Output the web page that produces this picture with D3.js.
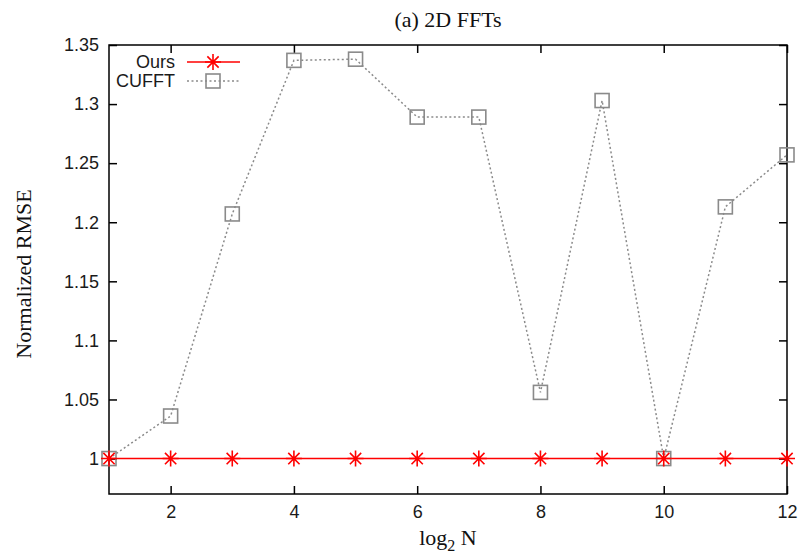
<!DOCTYPE html>
<html>
<head>
<meta charset="utf-8">
<script src="https://cdn.jsdelivr.net/npm/d3@7"></script>
<style>
  html, body { margin: 0; padding: 0; background: #fff; }
  svg { display: block; }
</style>
</head>
<body>
<svg id="chart" width="801" height="553"></svg>
<script>
// Normalized RMSE of 2D FFTs versus transform size (log2 N)
const logN = [1, 2, 3, 4, 5, 6, 7, 8, 9, 10, 11, 12];
const oursRMSE = [1, 1, 1, 1, 1, 1, 1, 1, 1, 1, 1, 1];
const cufftRMSE = [1.0, 1.036, 1.207, 1.337, 1.338, 1.289, 1.289, 1.056, 1.303, 1.0, 1.213, 1.257];
const xTicks = [2, 4, 6, 8, 10, 12];
const yTicks = [1, 1.05, 1.1, 1.15, 1.2, 1.25, 1.3, 1.35];

const svg = d3.select("#chart");
const margin = { left: 109, right: 14, top: 45, bottom: 59 };
const W = 801, H = 553;
const x0 = margin.left, x1 = W - margin.right;
const y0 = H - margin.bottom, y1 = margin.top;

const x = d3.scaleLinear().domain([1, 12]).range([x0, x1]);
const y = d3.scaleLinear().domain([0.97, 1.35]).range([y0, y1]);

const tickFont = "'Liberation Sans', Arial, sans-serif";
const serif = "'Liberation Serif', 'Times New Roman', serif";

// axes with inward ticks, mirrored on top and right
const tickLen = 8;
const fmtY = d => d3.format("")(+d.toFixed(2));
const axisLeft = d3.axisLeft(y).tickValues(yTicks).tickSize(-tickLen).tickPadding(10).tickFormat(fmtY);
const axisRight = d3.axisRight(y).tickValues(yTicks).tickSize(-tickLen).tickFormat("");
const axisBottom = d3.axisBottom(x).tickValues(xTicks).tickSize(-tickLen).tickPadding(11).tickFormat(d3.format("d"));
const axisTop = d3.axisTop(x).tickValues(xTicks).tickSize(-tickLen).tickFormat("");

function styleAxis(g) {
  g.select(".domain").remove();
  g.selectAll(".tick line").attr("stroke", "#000").attr("stroke-width", 1.5);
  g.selectAll(".tick text").attr("fill", "#1a1a1a").style("font-family", tickFont).style("font-size", "18px");
}

svg.append("g").attr("transform", `translate(${x0},0)`).call(axisLeft).call(styleAxis);
svg.append("g").attr("transform", `translate(${x1},0)`).call(axisRight).call(styleAxis);
svg.append("g").attr("transform", `translate(0,${y0})`).call(axisBottom).call(styleAxis);
svg.append("g").attr("transform", `translate(0,${y1})`).call(axisTop).call(styleAxis);

// plot frame
svg.append("rect")
  .attr("x", x0).attr("y", y1)
  .attr("width", x1 - x0).attr("height", y0 - y1)
  .attr("fill", "none").attr("stroke", "#000").attr("stroke-width", 1.5);

const grey = "#8a8a8a";
const red = "#ff0000";

// CUFFT series: dotted grey line with open squares
const line = d3.line().x((d, i) => x(logN[i])).y(d => y(d));
svg.append("path")
  .datum(cufftRMSE)
  .attr("d", line)
  .attr("fill", "none")
  .attr("stroke", grey)
  .attr("stroke-width", 1.5)
  .attr("stroke-dasharray", "2,2.5");

// Ours series: solid red line with asterisks
svg.append("path")
  .datum(oursRMSE)
  .attr("d", line)
  .attr("fill", "none")
  .attr("stroke", red)
  .attr("stroke-width", 1.5);

const sq = 14;
function square(g, cx, cy) {
  g.append("rect")
    .attr("x", cx - sq / 2).attr("y", cy - sq / 2)
    .attr("width", sq).attr("height", sq)
    .attr("fill", "none").attr("stroke", grey).attr("stroke-width", 1.6);
}
function star(g, cx, cy) {
  const r = 8, d = r * Math.SQRT1_2;
  const p = `M${cx - r},${cy}L${cx + r},${cy}M${cx},${cy - r}L${cx},${cy + r}` +
            `M${cx - d},${cy - d}L${cx + d},${cy + d}M${cx - d},${cy + d}L${cx + d},${cy - d}`;
  g.append("path").attr("d", p).attr("stroke", red).attr("stroke-width", 1.6).attr("fill", "none");
}

const markers = svg.append("g");
cufftRMSE.forEach((v, i) => square(markers, x(logN[i]), y(v)));
oursRMSE.forEach((v, i) => star(markers, x(logN[i]), y(v)));

// legend
const legend = svg.append("g");
const legItems = [
  { name: "Ours", y: 62, color: red, dash: null, mark: star },
  { name: "CUFFT", y: 81, color: grey, dash: "2,2.5", mark: square }
];
legItems.forEach(it => {
  legend.append("text")
    .attr("x", 175).attr("y", it.y).attr("dy", "0.35em")
    .attr("text-anchor", "end")
    .style("font-family", tickFont).style("font-size", "18px")
    .attr("fill", "#1a1a1a")
    .text(it.name);
  legend.append("line")
    .attr("x1", 187).attr("x2", 240).attr("y1", it.y).attr("y2", it.y)
    .attr("stroke", it.color).attr("stroke-width", 1.5)
    .attr("stroke-dasharray", it.dash);
  it.mark(legend, 213, it.y);
});

// title and axis labels
svg.append("text")
  .attr("x", 448).attr("y", 27)
  .attr("text-anchor", "middle")
  .style("font-family", serif).style("font-size", "22px")
  .attr("fill", "#111")
  .text("(a) 2D FFTs");

const xl = svg.append("text")
  .attr("x", 448).attr("y", 545)
  .attr("text-anchor", "middle")
  .style("font-family", serif).style("font-size", "22px")
  .attr("fill", "#111");
xl.append("tspan").text("log");
xl.append("tspan").attr("dy", 6).style("font-size", "16px").text("2");
xl.append("tspan").attr("dy", -6).text(" N");

svg.append("text")
  .attr("transform", "translate(31,274) rotate(-90)")
  .attr("text-anchor", "middle")
  .style("font-family", serif).style("font-size", "22px")
  .attr("fill", "#111")
  .text("Normalized RMSE");
</script>
</body>
</html>
